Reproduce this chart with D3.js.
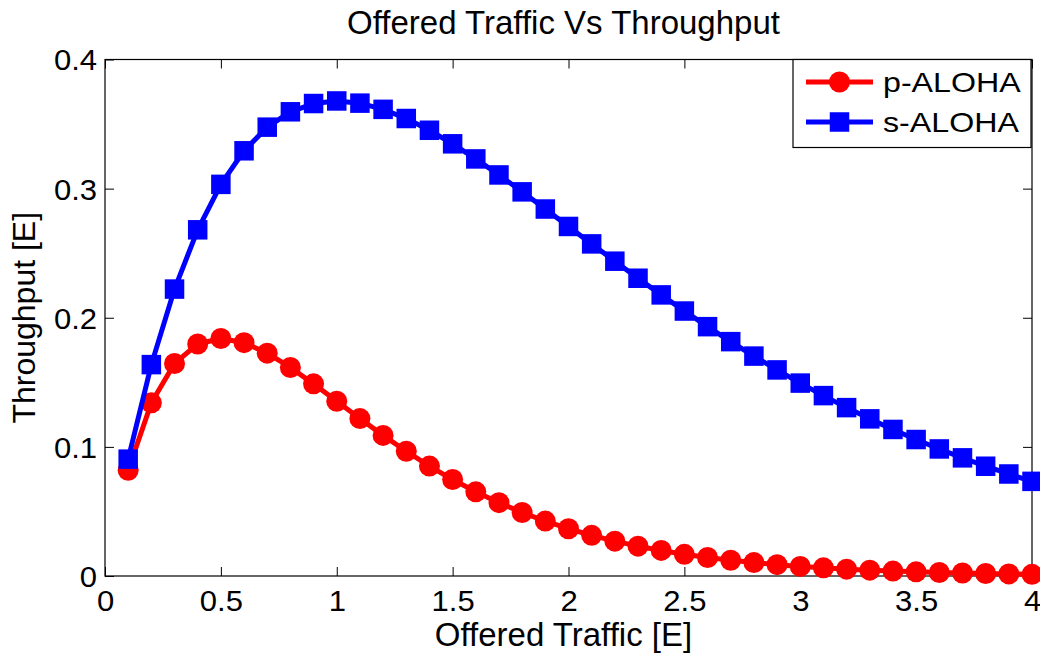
<!DOCTYPE html>
<html>
<head>
<meta charset="utf-8">
<script src="https://cdn.jsdelivr.net/npm/d3@7"></script>
<style>
  html, body { margin: 0; padding: 0; background: #fff; }
  svg { display: block; }
  text { font-family: "Liberation Sans", Arial, sans-serif; fill: #000; }
</style>
</head>
<body>
<svg id="chart" width="1040" height="655"></svg>
<script>
// ---- data ----
const offeredTraffic = [0.1,0.2,0.3,0.4,0.5,0.6,0.7,0.8,0.9,1.0,
  1.1,1.2,1.3,1.4,1.5,1.6,1.7,1.8,1.9,2.0,
  2.1,2.2,2.3,2.4,2.5,2.6,2.7,2.8,2.9,3.0,
  3.1,3.2,3.3,3.4,3.5,3.6,3.7,3.8,3.9,4.0];
const pAloha = [0.0819,0.1341,0.1646,0.1797,0.1839,0.1807,0.1726,0.1615,0.1488,0.1353,
  0.1219,0.1089,0.0966,0.0851,0.0747,0.0652,0.0568,0.0492,0.0425,0.0366,
  0.0315,0.0270,0.0231,0.0198,0.0168,0.0143,0.0122,0.0104,0.0088,0.0074,
  0.0063,0.0053,0.0045,0.0038,0.0032,0.0027,0.0023,0.0019,0.0016,0.0013];
const sAloha = [0.0905,0.1637,0.2222,0.2681,0.3033,0.3293,0.3476,0.3595,0.3659,0.3679,
  0.3662,0.3614,0.3543,0.3452,0.3347,0.3230,0.3106,0.2975,0.2842,0.2707,
  0.2572,0.2438,0.2306,0.2177,0.2052,0.1931,0.1815,0.1703,0.1596,0.1494,
  0.1397,0.1304,0.1217,0.1135,0.1057,0.0984,0.0915,0.0850,0.0790,0.0733];
const xTicks = [0,0.5,1,1.5,2,2.5,3,3.5,4];
const xTickLabels = ["0","0.5","1","1.5","2","2.5","3","3.5","4"];
const yTicks = [0,0.1,0.2,0.3,0.4];
const yTickLabels = ["0","0.1","0.2","0.3","0.4"];
const seriesNames = ["p-ALOHA","s-ALOHA"];
const titleText = "Offered Traffic Vs Throughput";
const xLabelText = "Offered Traffic [E]";
const yLabelText = "Throughput [E]";

// ---- layout ----
const L = 105, R = 1032, T = 59.5, B = 576;
const svg = d3.select("#chart");
const x = d3.scaleLinear().domain([0,4]).range([L,R]);
const y = d3.scaleLinear().domain([0,0.4]).range([B,T]);
const tickLen = 9;
const tickFont = 29, tickStretch = 1.07;

// axes box
svg.append("rect").attr("x",L).attr("y",T).attr("width",R-L).attr("height",B-T)
  .attr("fill","none").attr("stroke","#000").attr("stroke-width",1.2);

// bottom axis (inward ticks, labels)
const xAxis = d3.axisBottom(x).tickValues(xTicks).tickSizeInner(-tickLen).tickSizeOuter(0)
  .tickFormat((d,i)=>xTickLabels[i]);
const gx = svg.append("g").attr("transform",`translate(0,${B})`).call(xAxis);
gx.select(".domain").remove();
gx.selectAll(".tick line").attr("stroke","#000").attr("stroke-width",1);
gx.selectAll(".tick text").attr("font-size",tickFont).attr("font-family","Liberation Sans, Arial, sans-serif")
  .attr("dy",null).attr("x",0).attr("y",35).attr("text-anchor","middle")
  .attr("transform",`scale(${tickStretch},1)`);

// top axis ticks
const xTop = d3.axisTop(x).tickValues(xTicks).tickSizeInner(-tickLen).tickSizeOuter(0).tickFormat("");
const gxt = svg.append("g").attr("transform",`translate(0,${T})`).call(xTop);
gxt.select(".domain").remove();
gxt.selectAll(".tick line").attr("stroke","#000");

// left axis
const yAxis = d3.axisLeft(y).tickValues(yTicks).tickSizeInner(-tickLen).tickSizeOuter(0)
  .tickFormat((d,i)=>yTickLabels[i]);
const gy = svg.append("g").attr("transform",`translate(${L},0)`).call(yAxis);
gy.select(".domain").remove();
gy.selectAll(".tick line").attr("stroke","#000");
gy.selectAll(".tick text").attr("font-size",tickFont).attr("font-family","Liberation Sans, Arial, sans-serif")
  .attr("x",-8/tickStretch).attr("dy","0.36em").attr("text-anchor","end")
  .attr("transform",`scale(${tickStretch},1)`);

// right axis ticks
const yRight = d3.axisRight(y).tickValues(yTicks).tickSizeInner(-tickLen).tickSizeOuter(0).tickFormat("");
const gyr = svg.append("g").attr("transform",`translate(${R},0)`).call(yRight);
gyr.select(".domain").remove();
gyr.selectAll(".tick line").attr("stroke","#000");

// ---- series ----
const lineGen = d3.line().x(d=>x(d[0])).y(d=>y(d[1]));
const pData = offeredTraffic.map((g,i)=>[g,pAloha[i]]);
const sData = offeredTraffic.map((g,i)=>[g,sAloha[i]]);
const red = "#ff0000", blue = "#0000ff";
const lw = 5, circR = 10.5, sq = 19.5;

svg.append("path").datum(pData).attr("d",lineGen).attr("fill","none")
  .attr("stroke",red).attr("stroke-width",lw).attr("stroke-linejoin","round");
svg.append("g").selectAll("circle").data(pData).join("circle")
  .attr("cx",d=>x(d[0])).attr("cy",d=>y(d[1])).attr("r",circR).attr("fill",red);

svg.append("path").datum(sData).attr("d",lineGen).attr("fill","none")
  .attr("stroke",blue).attr("stroke-width",lw).attr("stroke-linejoin","round");
svg.append("g").selectAll("rect").data(sData).join("rect")
  .attr("x",d=>x(d[0])-sq/2).attr("y",d=>y(d[1])-sq/2).attr("width",sq).attr("height",sq).attr("fill",blue);

// ---- legend ----
const lg = svg.append("g");
const lgX = 793, lgY = 59.5, lgW = 238, lgH = 88;
lg.append("rect").attr("x",lgX).attr("y",lgY).attr("width",lgW).attr("height",lgH)
  .attr("fill","#fff").attr("stroke","#000").attr("stroke-width",1.2);
const legendRows = [{name:seriesNames[0],color:red,marker:"circle",cy:82},
                    {name:seriesNames[1],color:blue,marker:"square",cy:122}];
legendRows.forEach(r=>{
  lg.append("line").attr("x1",806).attr("x2",873).attr("y1",r.cy).attr("y2",r.cy)
    .attr("stroke",r.color).attr("stroke-width",lw);
  if (r.marker==="circle") {
    lg.append("circle").attr("cx",839.5).attr("cy",r.cy).attr("r",circR).attr("fill",r.color);
  } else {
    lg.append("rect").attr("x",839.5-sq/2).attr("y",r.cy-sq/2).attr("width",sq).attr("height",sq).attr("fill",r.color);
  }
  lg.append("text").attr("transform",`translate(883,${r.cy+10}) scale(1.13,1)`)
    .attr("font-size",28.5).text(r.name);
});

// ---- titles ----
const cx = (L+R)/2;
svg.append("text").attr("x",cx-5).attr("y",34).attr("text-anchor","middle")
  .attr("font-size",33).text(titleText);
svg.append("text").attr("x",cx-5).attr("y",646).attr("text-anchor","middle")
  .attr("font-size",33).text(xLabelText);
svg.append("text").attr("transform",`translate(35,${(T+B)/2}) rotate(-90)`)
  .attr("text-anchor","middle").attr("font-size",32).text(yLabelText);
</script>
</body>
</html>
